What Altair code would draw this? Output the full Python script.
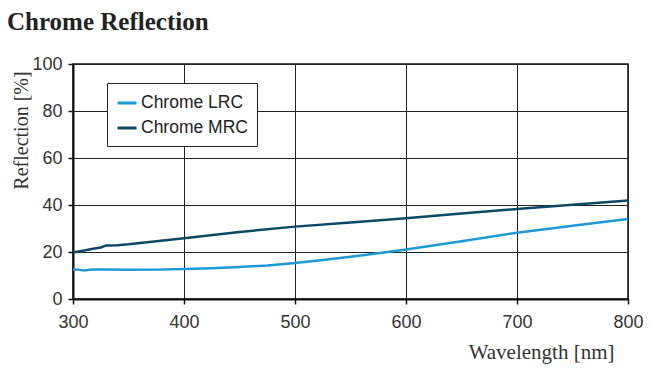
import altair as alt
import pandas as pd

wl_lrc = [300, 305, 310, 315, 320, 330, 350, 375, 400, 425, 450, 475, 500, 525, 550, 575, 600, 650, 700, 750, 800]
r_lrc = [12.6, 12.5, 12.1, 12.4, 12.6, 12.6, 12.4, 12.5, 12.8, 13.1, 13.6, 14.3, 15.3, 16.6, 18.0, 19.5, 21.1, 24.6, 28.2, 31.2, 34.0]

wl_mrc = [300, 310, 318, 325, 330, 340, 350, 375, 400, 450, 500, 550, 600, 650, 700, 750, 800]
r_mrc = [19.8, 20.6, 21.4, 21.9, 22.8, 22.9, 23.3, 24.6, 25.9, 28.5, 30.8, 32.6, 34.4, 36.4, 38.3, 40.1, 41.9]

series = ["Chrome LRC", "Chrome MRC"]
colors = ["#1a9bd7", "#0b4865"]

df = pd.concat([
    pd.DataFrame({"wl": wl_lrc, "r": r_lrc, "series": series[0]}),
    pd.DataFrame({"wl": wl_mrc, "r": r_mrc, "series": series[1]}),
])

serif = "Liberation Serif"
sans = "Liberation Sans"

chart = alt.Chart(df).mark_line(strokeWidth=2.5).encode(
    x=alt.X("wl:Q", scale=alt.Scale(domain=[300, 800], nice=False),
            axis=alt.Axis(values=[300, 400, 500, 600, 700, 800], title="Wavelength [nm]",
                          titleAnchor="end", titleAlign="right", titleX=541, titleY=42,
                          titleBaseline="top", labelFlush=False,
                          titleFont=serif, titleFontSize=21, titleFontWeight="normal", titleColor="#333",
                          labelPadding=9)),
    y=alt.Y("r:Q", scale=alt.Scale(domain=[0, 100], nice=False),
            axis=alt.Axis(values=[0, 20, 40, 60, 80, 100], title="Reflection [%]",
                          titleFont=serif, titleFontSize=20, titleFontWeight="normal", titleColor="#333",
                          titleX=-52, titleY=66, titleAlign="center", titleBaseline="middle",
                          labelFlush=False)),
    color=alt.Color("series:N", scale=alt.Scale(domain=series, range=colors),
                    legend=alt.Legend(title=None, orient="none", legendX=34, legendY=19,
                                      symbolType="stroke", symbolStrokeWidth=3, symbolSize=361,
                                      labelFont=sans, labelFontSize=17.5, labelColor="#222",
                                      strokeColor="#222", padding=9, fillColor="white",
                                      rowPadding=5, labelOffset=3)),
).properties(
    width=555, height=235,
    title=alt.TitleParams("Chrome Reflection", anchor="start", frame="group", dx=-66, dy=-16,
                          font=serif, fontSize=25, fontWeight="bold", color="#222"),
    autosize=alt.AutoSizeParams(type="none"),
    padding={"left": 65, "top": 56, "right": 17, "bottom": 70},
).configure_view(
    stroke="#111", strokeWidth=1.5
).configure_axis(
    grid=True, gridColor="#222", gridWidth=1, gridOpacity=1,
    domainColor="#111", domainWidth=2,
    tickColor="#111", tickSize=5, tickWidth=1.5,
    labelFont=sans, labelFontSize=18, labelColor="#333", labelPadding=6,
)

chart.save("out.html", embed_options={"renderer": "svg", "actions": False})
